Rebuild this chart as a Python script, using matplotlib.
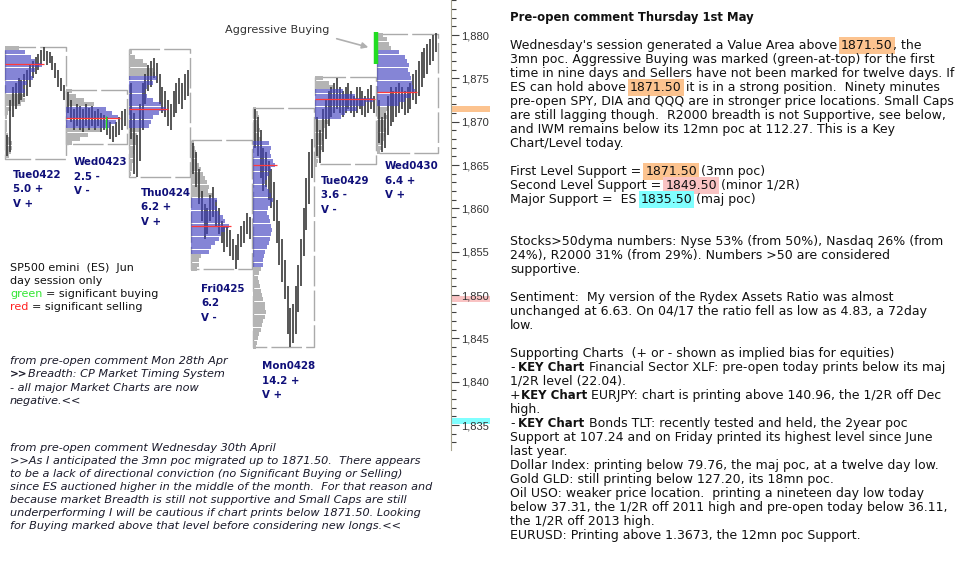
import matplotlib.pyplot as plt
from matplotlib.ticker import MultipleLocator, StrMethodFormatter

plt.rcParams['font.family'] = 'DejaVu Sans'

# ---------------- data ----------------
days = ['Tue0422', 'Wed0423', 'Thu0424', 'Fri0425', 'Mon0428', 'Tue0429', 'Wed0430']
day_range_txt = ['5.0 +', '2.5 -', '6.2 +', '6.2', '14.2 +', '3.6 -', '6.4 +']
day_vol_txt = ['V +', 'V -', 'V +', 'V -', 'V +', 'V -', 'V +']

day_high = [1878.6, 1873.7, 1878.4, 1867.9, 1871.6, 1875.2, 1880.1]
day_low = [1865.7, 1867.4, 1863.6, 1853.0, 1844.0, 1865.1, 1866.4]
va_high = [1878.3, 1871.8, 1875.4, 1861.3, 1867.5, 1873.8, 1878.0]
va_low = [1873.1, 1869.3, 1869.2, 1855.0, 1853.1, 1870.2, 1871.9]
poc = [1876.7, 1870.4, 1871.5, 1858.0, 1865.0, 1872.6, 1873.4]

# profile widths (px) per half point, from the top level down
profile_top = [1878.5, 1873.5, 1878.0, 1867.5, 1871.5, 1875.0, 1880.0]
prof_tue0422 = [14, 20, 26, 30, 37, 30, 26, 28, 22, 18, 20, 18, 20, 16, 6, 3, 2, 2, 2, 2, 3, 5, 7, 7, 6, 4]
prof_wed0423 = [6, 10, 18, 28, 40, 46, 52, 50, 44, 34, 22, 14, 6]
prof_thu0424 = [3, 6, 14, 18, 24, 26, 28, 24, 18, 16, 18, 24, 32, 37, 30, 24, 22, 20,
                10, 8, 7, 7, 6, 5, 4, 4, 3, 3, 2]
prof_fri0425 = [3, 4, 5, 6, 6, 8, 10, 12, 14, 16, 18, 17, 22, 26, 24, 26, 28, 32, 34, 38,
                34, 30, 28, 24, 20, 18, 10, 8, 8, 6]
prof_mon0428 = [3, 5, 6, 5, 6, 7, 6, 8,
                16, 18, 17, 18, 20, 22, 18, 16, 14, 12, 14, 16, 18, 20, 18, 15, 14, 16, 17, 18,
                19, 18, 17, 16, 14, 12, 11, 10, 10,
                8, 6, 5, 6, 7, 8, 9, 10, 12, 12, 13, 12, 10, 9, 8, 6, 5, 4, 3]
prof_tue0429 = [8, 14, 18, 28, 40, 58, 50, 42, 30, 26, 14, 10, 9, 8, 8, 7, 7, 6, 5, 3, 2]
prof_wed0430 = [6, 10, 12, 14, 22, 28, 30, 32, 31, 33, 34, 35, 36, 38, 34, 28, 22,
                10, 9, 10, 8, 8, 9, 8, 7, 6, 5, 3]
profiles = [prof_tue0422, prof_wed0423, prof_thu0424, prof_fri0425,
            prof_mon0428, prof_tue0429, prof_wed0430]

# price bars (low, high) through each session
lo_tue0422 = [1866.0, 1866.5, 1870.5, 1871.5, 1872.0, 1872.5, 1872.8, 1873.0, 1874.0, 1875.0, 1875.5,
              1876.0, 1876.5, 1877.0, 1876.5, 1876.8, 1876.0, 1875.0, 1874.0, 1873.5, 1872.5]
hi_tue0422 = [1868.5, 1872.5, 1874.0, 1874.5, 1875.0, 1874.8, 1875.5, 1876.0, 1876.5, 1877.0, 1877.5,
              1877.8, 1878.3, 1878.6, 1878.2, 1878.0, 1877.6, 1876.8, 1876.0, 1875.0, 1874.2]
lo_wed0423 = [1871.0, 1870.0, 1869.0, 1869.5, 1869.0, 1868.8, 1869.5, 1869.0, 1869.5, 1869.0,
              1869.5, 1868.8, 1869.0, 1868.5, 1868.0, 1867.7, 1868.2, 1868.5, 1869.0, 1869.5]
hi_wed0423 = [1873.4, 1872.5, 1871.5, 1872.0, 1871.8, 1871.5, 1872.0, 1871.6, 1871.8, 1871.2,
              1871.5, 1871.0, 1870.8, 1870.5, 1870.0, 1869.5, 1870.0, 1870.5, 1871.2, 1871.5]
lo_thu0424 = [1868.0, 1864.0, 1863.6, 1865.5, 1869.0, 1872.0, 1873.5, 1874.0, 1875.0, 1874.5, 1872.0,
              1871.0, 1870.5, 1869.5, 1869.0, 1870.5, 1871.0, 1872.0, 1871.5, 1872.5, 1873.0]
hi_thu0424 = [1874.5, 1871.0, 1868.5, 1872.0, 1874.5, 1875.5, 1876.5, 1877.0, 1877.3, 1876.8, 1875.5,
              1874.0, 1873.5, 1872.5, 1872.0, 1873.5, 1874.5, 1875.0, 1874.5, 1875.5, 1876.0]
lo_fri0425 = [1864.0, 1862.5, 1860.5, 1858.5, 1856.5, 1857.0, 1858.5, 1859.0, 1858.0, 1857.0, 1856.0,
              1855.0, 1855.5, 1854.5, 1854.0, 1853.0, 1854.0, 1855.5, 1856.0, 1857.0, 1856.5]
hi_fri0425 = [1867.5, 1866.5, 1864.5, 1862.0, 1860.5, 1860.0, 1861.5, 1862.5, 1861.0, 1860.0, 1858.5,
              1858.0, 1857.8, 1857.5, 1856.5, 1855.8, 1857.0, 1858.0, 1858.5, 1859.5, 1859.0]
lo_mon0428 = [1867.0, 1866.0, 1863.5, 1862.0, 1862.5, 1861.0, 1860.0, 1858.5, 1856.0, 1853.5, 1851.5,
              1849.5, 1845.5, 1844.0, 1844.5, 1845.5, 1848.0, 1851.0, 1854.5, 1857.5, 1860.5, 1863.5]
hi_mon0428 = [1871.5, 1870.5, 1869.0, 1867.0, 1866.5, 1865.5, 1864.5, 1863.0, 1861.0, 1858.5, 1856.5,
              1854.0, 1851.0, 1848.5, 1849.0, 1851.0, 1853.5, 1856.5, 1860.0, 1863.5, 1866.5, 1868.0]
lo_tue0429 = [1866.0, 1865.2, 1866.5, 1868.0, 1869.5, 1870.5, 1871.0, 1871.5, 1871.0, 1870.5, 1871.0,
              1871.5, 1871.0, 1870.5, 1871.0, 1871.5, 1870.8, 1870.5, 1871.0, 1871.5, 1871.0]
hi_tue0429 = [1870.5, 1869.0, 1871.5, 1872.5, 1873.5, 1874.0, 1874.5, 1875.0, 1874.0, 1873.5, 1874.0,
              1874.5, 1873.5, 1873.0, 1874.0, 1874.0, 1873.5, 1873.0, 1873.8, 1874.2, 1873.0]
lo_wed0430 = [1867.5, 1866.5, 1867.0, 1868.5, 1869.5, 1870.0, 1870.5, 1871.0, 1871.5, 1870.8, 1871.0,
              1871.5, 1872.5, 1872.0, 1873.0, 1874.0, 1875.0, 1875.5, 1876.5, 1877.0, 1878.0]
hi_wed0430 = [1872.5, 1870.5, 1871.0, 1873.0, 1874.0, 1873.5, 1874.0, 1874.5, 1874.0, 1873.5, 1874.0,
              1874.5, 1875.5, 1876.0, 1877.0, 1878.0, 1878.5, 1879.0, 1879.5, 1880.0, 1880.2]
bar_lows = [lo_tue0422, lo_wed0423, lo_thu0424, lo_fri0425, lo_mon0428, lo_tue0429, lo_wed0430]
bar_highs = [hi_tue0422, hi_wed0423, hi_thu0424, hi_fri0425, hi_mon0428, hi_tue0429, hi_wed0430]

# significant buying marks (day index, low, high)
buy_day = [1, 6]
buy_low = [1869.1, 1876.7]
buy_high = [1870.7, 1880.3]

# key levels shown on the price axis
level_price = [1871.5, 1849.5, 1835.5]
level_color = ['#fcc38f', '#f9c3c3', '#80ffff']

# ---------------- layout ----------------
box_left = [5, 66, 129, 191, 253, 315, 377]
box_w = 61
label_x = [13, 74, 141, 201, 262, 321, 385]
label_y = [175, 162, 193, 289, 366, 181, 166]
buy_x = [106, 375.5]
buy_lw = [1.0, 3.2]

fig = plt.figure(figsize=(9.68, 5.63), dpi=100)
tx = fig.add_axes([0, 0, 1, 1])
tx.set_xlim(0, 968)
tx.set_ylim(563, 0)
tx.axis('off')

ax = fig.add_axes([0, 113 / 563, 451 / 968, 450 / 563])
ax.patch.set_alpha(0)
ax.set_xlim(0, 451)
ax.set_ylim(1832.12, 1884.04)
for s in ['top', 'left', 'bottom']:
    ax.spines[s].set_visible(False)
ax.spines['right'].set_color('#a8a490')
ax.yaxis.tick_right()
ax.set_xticks([])
ax.yaxis.set_major_locator(MultipleLocator(5))
ax.yaxis.set_minor_locator(MultipleLocator(1))
ax.yaxis.set_major_formatter(StrMethodFormatter('{x:,.0f}'))
ax.tick_params(axis='y', which='major', length=6, width=0.8, color='#404040',
               labelsize=8, pad=1, labelcolor='#333333')
ax.tick_params(axis='y', which='minor', length=3.5, width=0.8, color='#404040')
for lab in ax.get_yticklabels():
    lab.set_family('Liberation Sans')

# key level bars on the axis
for p, c in zip(level_price, level_color):
    ax.barh(p, 39, height=0.7, left=451, color=c, clip_on=False, zorder=1)

blue = (0.25, 0.25, 0.75)
for i in range(len(days)):
    x0 = box_left[i]
    prof = profiles[i]
    levels = [profile_top[i] - 0.5 * k for k in range(len(prof))]
    for lv, w in zip(levels, prof):
        if va_low[i] <= lv <= va_high[i]:
            ax.barh(lv, w, height=0.45, left=x0, color=blue, alpha=0.64,
                    linewidth=0, zorder=3)
        else:
            ax.barh(lv, w, height=0.45, left=x0, color='#b4b4b4',
                    linewidth=0, zorder=1)
    # session box
    hi, lo = day_high[i], day_low[i]
    ax.plot([x0, x0 + box_w, x0 + box_w, x0, x0], [hi, hi, lo, lo, hi],
            color='#aaaaaa', lw=1.0, dashes=(22, 3), zorder=0.5)
    # price bars
    lows, highs = bar_lows[i], bar_highs[i]
    n = len(lows)
    xs = [x0 + 1 + (j + 0.5) * (box_w - 2) / n for j in range(n)]
    ax.vlines(xs, lows, highs, color='#3a3a3a', lw=1.2, zorder=2)
    # poc
    pw = prof[levels.index(min(levels, key=lambda v: abs(v - poc[i])))]
    ax.hlines(poc[i], x0, x0 + pw + 2, color='#ff3a3a', lw=0.9, zorder=4)
    # labels
    for k, t in enumerate([days[i], day_range_txt[i], day_vol_txt[i]]):
        tx.text(label_x[i], label_y[i] + k * 14.5, t, fontsize=7.4, fontweight='bold',
                color='#10107a', va='center')

for d, l, h, bx, blw in zip(buy_day, buy_low, buy_high, buy_x, buy_lw):
    ax.vlines(bx, l, h, color='#22dd22', lw=blw, zorder=5)

tx.text(225, 30, 'Aggressive Buying', fontsize=8.1, color='#333333', va='center')
tx.annotate('', xy=(371, 48), xytext=(334, 38),
            arrowprops=dict(arrowstyle='-|>', color='#b0b0b0', lw=1.2, mutation_scale=9))

# ---------------- rich text helper ----------------
renderer = fig.canvas.get_renderer()
hl = {'o': '#fcc38f', 'p': '#f9c3c3', 'c': '#80ffff'}
_sw = {}


def space_w(size, weight, style):
    key = (size, weight, style)
    if key not in _sw:
        a = tx.text(0, 0, 'a a', fontsize=size, fontweight=weight, fontstyle=style)
        b = tx.text(0, 0, 'aa', fontsize=size, fontweight=weight, fontstyle=style)
        _sw[key] = a.get_window_extent(renderer).width - b.get_window_extent(renderer).width
        a.remove()
        b.remove()
    return _sw[key]


def rich(x, y, segs, size, color='#111111', style='normal', bold_size=None):
    for seg in segs:
        text, kind = (seg, '') if isinstance(seg, str) else seg
        weight = 'bold' if kind == 'b' else 'normal'
        fs = (bold_size or size) if kind == 'b' else size
        col = kind if kind.startswith('#') else color
        sw = space_w(fs, weight, style)
        lead = len(text) - len(text.lstrip(' '))
        trail = len(text) - len(text.rstrip(' '))
        body = text.strip(' ')
        x += lead * sw
        if body:
            kw = {}
            if kind in hl:
                kw['bbox'] = dict(boxstyle='square,pad=0.16', fc=hl[kind], ec='none')
            t = tx.text(x, y, body, fontsize=fs, fontweight=weight, fontstyle=style,
                        color=col, va='center', **kw)
            x += t.get_window_extent(renderer).width
        x += trail * sw


# left legend
legend_lines = [
    ['SP500 emini  (ES)  Jun'],
    ['day session only'],
    [('green', '#33e633'), ' = significant buying'],
    [('red', '#ff2020'), ' = significant selling'],
]
for k, segs in enumerate(legend_lines):
    rich(10, 268 + k * 13, segs, 8.0)

note1 = [
    'from pre-open comment Mon 28th Apr',
    [('>>', 'b'), 'Breadth: CP Market Timing System'],
    '- all major Market Charts are now',
    'negative.<<',
]
for k, segs in enumerate(note1):
    rich(10, 361 + k * 13.3, [segs] if isinstance(segs, str) else segs, 8.1,
         color='#1a1a2a', style='italic', bold_size=7.6)

note2 = [
    'from pre-open comment Wednesday 30th April',
    '>>As I anticipated the 3mn poc migrated up to 1871.50.  There appears',
    'to be a lack of directional conviction (no Significant Buying or Selling)',
    'since ES auctioned higher in the middle of the month.  For that reason and',
    'because market Breadth is still not supportive and Small Caps are still',
    'underperforming I will be cautious if chart prints below 1871.50. Looking',
    'for Buying marked above that level before considering new longs.<<',
]
for k, line in enumerate(note2):
    rich(10, 448 + k * 13, [line], 8.1, color='#1a1a2a', style='italic')

# right commentary
rich(510, 17.5, [('Pre-open comment Thursday 1st May', 'b')], 9.0, bold_size=8.4)
comment = [
    ["Wednesday's session generated a Value Area above ", ('1871.50', 'o'), ', the'],
    ['3mn poc. Aggressive Buying was marked (green-at-top) for the first'],
    ['time in nine days and Sellers have not been marked for twelve days. If'],
    ['ES can hold above ', ('1871.50', 'o'), ' it is in a strong position.  Ninety minutes'],
    ['pre-open SPY, DIA and QQQ are in stronger price locations. Small Caps'],
    ['are still lagging though.  R2000 breadth is not Supportive, see below,'],
    ['and IWM remains below its 12mn poc at 112.27. This is a Key'],
    ['Chart/Level today.'],
    [],
    ['First Level Support = ', ('1871.50', 'o'), ' (3mn poc)'],
    ['Second Level Support = ', ('1849.50', 'p'), ' (minor 1/2R)'],
    ['Major Support =  ES ', ('1835.50', 'c'), ' (maj poc)'],
    [],
    [],
    ['Stocks>50dyma numbers: Nyse 53% (from 50%), Nasdaq 26% (from'],
    ['24%), R2000 31% (from 29%). Numbers >50 are considered'],
    ['supportive.'],
    [],
    ['Sentiment:  My version of the Rydex Assets Ratio was almost'],
    ['unchanged at 6.63. On 04/17 the ratio fell as low as 4.83, a 72day'],
    ['low.'],
    [],
    ['Supporting Charts  (+ or - shown as implied bias for equities)'],
    ['- ', ('KEY Chart', 'b'), ' Financial Sector XLF: pre-open today prints below its maj'],
    ['1/2R level (22.04).'],
    ['+', ('KEY Chart', 'b'), ' EURJPY: chart is printing above 140.96, the 1/2R off Dec'],
    ['high.'],
    ['- ', ('KEY Chart', 'b'), ' Bonds TLT: recently tested and held, the 2year poc'],
    ['Support at 107.24 and on Friday printed its highest level since June'],
    ['last year.'],
    ['Dollar Index: printing below 79.76, the maj poc, at a twelve day low.'],
    ['Gold GLD: still printing below 127.20, its 18mn poc.'],
    ['Oil USO: weaker price location.  printing a nineteen day low today'],
    ['below 37.31, the 1/2R off 2011 high and pre-open today below 36.11,'],
    ['the 1/2R off 2013 high.'],
    ['EURUSD: Printing above 1.3673, the 12mn poc Support.'],
]
for k, segs in enumerate(comment):
    if segs:
        rich(510, 45.5 + k * 14, segs, 9.0, bold_size=8.5)

fig.savefig('out.png', dpi=100)
